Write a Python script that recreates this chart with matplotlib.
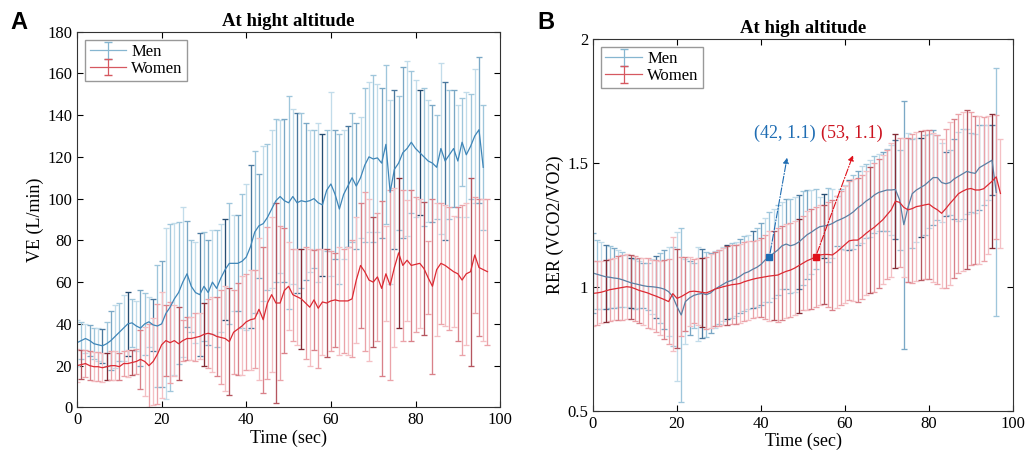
import numpy as np
import matplotlib.pyplot as plt

plt.rcParams['font.family'] = ['Liberation Serif', 'DejaVu Serif']

# --- data ---
men_t = np.arange(97)
women_t = np.arange(98)

men_ve_mean = [31, 32, 33, 32, 30.5, 30, 29.5, 30.5, 32, 34,
               36, 38, 40, 40.5, 39, 38, 40, 41, 39.5, 39,
               40, 45, 48, 52, 55, 60, 64, 58, 55, 54,
               58, 55, 60, 57, 62, 66, 69, 69, 69, 70,
               72, 77, 84, 87, 88, 91, 95, 99, 101, 99,
               98, 101, 98, 99, 98.5, 99, 100, 98, 97, 104,
               107, 102, 95, 102, 106, 110, 106, 110, 116, 120,
               119, 119.5, 117, 126, 103, 114, 117, 122, 124, 127,
               124, 122, 120, 118, 117, 115, 124, 118, 121, 124,
               118, 127, 121, 125, 130, 133, 115]
men_ve_err = [11, 9, 7, 7.5, 7.5, 8, 8, 10.5, 14, 15,
              14, 16, 15.5, 11.5, 12, 18, 15, 12, 12.5, 29,
              30, 41, 40, 36.5, 34, 36, 25.5, 22, 24, 29.5,
              26, 25, 25, 28, 26, 24, 29, 23, 23, 32,
              35, 39, 39, 25, 37, 35, 38, 39, 36.5, 39,
              51, 42, 43, 42, 37.5, 34, 33, 38, 34, 29,
              44, 31, 36, 31, 29, 31, 30, 29, 37, 36,
              40, 35.5, 36, 38, 44, 38, 32, 41, 42, 34,
              33, 30, 33, 29, 28, 25, 41, 38, 31, 28,
              27, 21, 30, 25, 32, 35, 30]
women_ve_mean = [20, 20.5, 21, 20, 19.5, 19.5, 19, 19.5, 20, 20,
                 19.5, 21, 21, 21.5, 22, 23, 22, 20, 22, 25.5,
                 30, 32, 31, 32, 30.5, 32, 33, 33, 33.5, 34,
                 35, 35.5, 35, 34, 33.5, 33, 31.5, 36, 37.5, 39,
                 41, 42, 42.5, 47, 42, 50, 54, 50, 50, 56,
                 58, 54, 53, 52, 50, 48, 51.5, 47.5, 50.5, 50,
                 51, 51.5, 51, 51, 51, 52, 61, 68, 65, 61,
                 60, 62.5, 57, 64, 58.5, 67, 74, 68, 70.5, 68,
                 68.5, 69, 66.5, 62, 58, 66, 69, 68, 66.5, 65,
                 64, 61, 64, 65, 73, 67, 66, 65]
women_ve_err = [8, 7, 6.5, 7, 7, 7, 7, 6.5, 7, 7,
                6.5, 6, 6.5, 6, 6, 14, 16.5, 20, 21, 24,
                25.5, 17, 19.5, 17, 17.5, 10, 10.5, 10.5, 11.5, 11,
                15, 16.5, 18, 19, 22.5, 25, 25.5, 20, 22, 23.7,
                23, 24, 23.5, 34, 35, 36.6, 37, 48, 37, 30,
                21, 22, 23, 24, 27, 28, 24, 28.5, 25.5, 26,
                24, 22.5, 26, 25, 26, 28, 30, 30, 38, 39,
                31, 30.5, 42, 22.7, 45.5, 38, 36, 36, 29, 36,
                32.5, 31, 32, 17.5, 42, 32, 29, 29, 29.5, 26.5,
                32, 36, 34, 45, 28, 33, 34, 35]

men_rer_mean = [1.055, 1.05, 1.045, 1.04, 1.038, 1.035, 1.033, 1.028, 1.022, 1.016,
                1.012, 1.008, 1.004, 1.001, 1.0, 0.998, 0.995, 0.99, 0.98, 0.96,
                0.92, 0.886, 0.94, 0.955, 0.965, 0.97, 0.973, 0.968, 0.975, 0.99,
                1.0, 1.01, 1.02, 1.025, 1.032, 1.042, 1.054, 1.06, 1.07, 1.078,
                1.09, 1.108, 1.12, 1.135, 1.148, 1.165, 1.172, 1.165, 1.17, 1.18,
                1.195, 1.21, 1.22, 1.232, 1.242, 1.245, 1.248, 1.255, 1.265, 1.272,
                1.28, 1.29, 1.302, 1.318, 1.33, 1.345, 1.356, 1.37, 1.38, 1.385,
                1.39, 1.39, 1.392, 1.35, 1.25, 1.32, 1.375, 1.39, 1.4, 1.41,
                1.425, 1.44, 1.44, 1.42, 1.415, 1.42, 1.435, 1.445, 1.455, 1.465,
                1.46, 1.457, 1.48, 1.49, 1.5, 1.51, 1.38]
men_rer_err = [0.16, 0.14, 0.135, 0.13, 0.125, 0.12, 0.115, 0.11, 0.105, 0.1,
               0.1, 0.095, 0.09, 0.095, 0.11, 0.125, 0.14, 0.16, 0.18, 0.2,
               0.3, 0.35, 0.17, 0.15, 0.13, 0.19, 0.18, 0.17, 0.16, 0.155,
               0.15, 0.15, 0.15, 0.15, 0.15, 0.15, 0.15, 0.15, 0.155, 0.16,
               0.165, 0.17, 0.18, 0.18, 0.18, 0.175, 0.18, 0.19, 0.19, 0.19,
               0.19, 0.18, 0.17, 0.16, 0.12, 0.13, 0.15, 0.14, 0.1, 0.12,
               0.13, 0.14, 0.15, 0.15, 0.155, 0.15, 0.155, 0.155, 0.155, 0.16,
               0.165, 0.18, 0.2, 0.2, 0.5, 0.3, 0.22, 0.21, 0.2, 0.2,
               0.19, 0.19, 0.17, 0.16, 0.13, 0.13, 0.16, 0.18, 0.18, 0.17,
               0.16, 0.16, 0.17, 0.16, 0.15, 0.14, 0.5]
women_rer_mean = [0.973, 0.975, 0.978, 0.983, 0.988, 0.991, 0.994, 0.997, 1.0, 0.998,
                  0.992, 0.985, 0.98, 0.975, 0.968, 0.962, 0.955, 0.948, 0.94, 0.972,
                  0.953, 0.96, 0.97, 0.98, 0.982, 0.98, 0.977, 0.975, 0.982, 0.99,
                  0.995, 1.0, 1.004, 1.008, 1.01, 1.013, 1.02, 1.025, 1.03, 1.034,
                  1.037, 1.04, 1.043, 1.045, 1.047, 1.055, 1.062, 1.067, 1.075, 1.085,
                  1.095, 1.105, 1.112, 1.12, 1.128, 1.13, 1.13, 1.128, 1.14, 1.155,
                  1.17, 1.185, 1.188, 1.188, 1.2, 1.215, 1.228, 1.24, 1.255, 1.27,
                  1.29, 1.31, 1.345, 1.34, 1.32, 1.31, 1.315, 1.323, 1.326, 1.33,
                  1.333, 1.32, 1.31, 1.296, 1.315, 1.336, 1.355, 1.375, 1.385, 1.393,
                  1.396, 1.39, 1.39, 1.395, 1.41, 1.425, 1.443, 1.376]
women_rer_err = [0.13, 0.13, 0.125, 0.125, 0.125, 0.125, 0.13, 0.13, 0.13, 0.13,
                 0.13, 0.13, 0.135, 0.14, 0.14, 0.145, 0.15, 0.16, 0.17, 0.23,
                 0.2, 0.16, 0.15, 0.14, 0.13, 0.135, 0.14, 0.145, 0.15, 0.15,
                 0.155, 0.155, 0.16, 0.16, 0.16, 0.16, 0.16, 0.16, 0.155, 0.155,
                 0.16, 0.17, 0.18, 0.18, 0.19, 0.19, 0.19, 0.19, 0.19, 0.19,
                 0.19, 0.2, 0.2, 0.2, 0.2, 0.2, 0.21, 0.22, 0.225, 0.23,
                 0.235, 0.24, 0.245, 0.25, 0.25, 0.25, 0.255, 0.26, 0.26, 0.26,
                 0.26, 0.27, 0.27, 0.26, 0.28, 0.29, 0.3, 0.3, 0.3, 0.3,
                 0.3, 0.3, 0.3, 0.3, 0.32, 0.33, 0.32, 0.32, 0.32, 0.32,
                 0.31, 0.3, 0.3, 0.29, 0.28, 0.27, 0.25, 0.22]

# --- styling ---
men_shades = ['#c2dcea', '#9fc6db', '#7ba8c6', '#4a789e', '#264d72']
women_shades = ['#f4c0c4', '#eba3a9', '#d98189', '#b5565f', '#852b35']
shade_order = [0, 1, 0, 2, 1, 0, 3, 1, 2, 0, 1, 0, 4, 1, 0, 2, 1, 0, 3, 1, 2, 0, 1]
men_line = '#3f86b8'
women_line = '#dc2a33'


def draw_bars(ax, t, mean, err, shades, shift):
    for i in range(len(t)):
        c = shades[shade_order[(i + shift) % len(shade_order)]]
        ax.errorbar(t[i], mean[i], yerr=err[i], fmt='none', ecolor=c,
                    elinewidth=0.95, capsize=2.3, capthick=0.95)


def style_axes(ax):
    ax.tick_params(direction='in', top=True, right=True, labelsize=12,
                   length=4, width=0.8)
    for s in ax.spines.values():
        s.set_linewidth(0.8)
        s.set_color('#333333')
    ax.set_xlim(0, 100)
    ax.set_xticks([0, 20, 40, 60, 80, 100])
    ax.set_xlabel('Time (sec)', fontsize=13, labelpad=1)


def add_legend(ax):
    h_men = ax.errorbar([np.nan], [np.nan], yerr=[1], color='#86b6d0',
                        lw=0.9, capsize=3)
    h_women = ax.errorbar([np.nan], [np.nan], yerr=[1], color='#d65860',
                          lw=0.9, capsize=3)
    ax.legend([h_men, h_women], ['Men', 'Women'], loc='upper left',
              fontsize=12, fancybox=False, edgecolor='#999999', framealpha=1,
              borderpad=0.25, labelspacing=0.05, handlelength=2.2,
              handletextpad=0.3, borderaxespad=0.5)


fig = plt.figure(figsize=(10.27, 4.59), dpi=100)
axA = fig.add_axes([0.075, 0.1124, 0.412, 0.8188])
axB = fig.add_axes([0.5774, 0.1052, 0.409, 0.8105])

# Panel A
draw_bars(axA, men_t, men_ve_mean, men_ve_err, men_shades, 0)
draw_bars(axA, women_t, women_ve_mean, women_ve_err, women_shades, 5)
axA.plot(men_t, men_ve_mean, color=men_line, lw=0.9)
axA.plot(women_t, women_ve_mean, color=women_line, lw=0.9)
style_axes(axA)
axA.set_ylim(0, 180)
axA.set_yticks(range(0, 181, 20))
axA.set_ylabel('VE (L/min)', fontsize=13, labelpad=2)
axA.set_title('At hight altitude', fontsize=13.5, fontweight='bold', pad=4)
add_legend(axA)

# Panel B
draw_bars(axB, men_t, men_rer_mean, men_rer_err, men_shades, 3)
draw_bars(axB, women_t, women_rer_mean, women_rer_err, women_shades, 9)
axB.plot(men_t, men_rer_mean, color='#5b7fa3', lw=0.9)
axB.plot(women_t, women_rer_mean, color=women_line, lw=0.9)
style_axes(axB)
axB.set_ylim(0.5, 2)
axB.set_yticks([0.5, 1, 1.5, 2])
axB.set_yticklabels(['0.5', '1', '1.5', '2'])
axB.set_ylabel('RER (VCO2/VO2)', fontsize=13, labelpad=2)
axB.set_title('At high altitude', fontsize=13.5, fontweight='bold', pad=4)
add_legend(axB)

# data tips
axB.plot(42, men_rer_mean[42], 's', color='#1f6db3', ms=5, zorder=5)
axB.annotate('', xy=(46.2, 1.52), xytext=(42, men_rer_mean[42]),
             arrowprops=dict(arrowstyle='-|>', linestyle='-.', color='#1f6db3',
                             lw=0.8, shrinkA=3, shrinkB=0, mutation_scale=8))
axB.text(45.7, 1.62, '(42, 1.1)', color='#1f6db3', fontsize=13,
         ha='center', va='center')
axB.plot(53, women_rer_mean[53], 's', color='#e0101a', ms=5, zorder=5)
axB.annotate('', xy=(61.9, 1.53), xytext=(53, women_rer_mean[53]),
             arrowprops=dict(arrowstyle='-|>', linestyle='-.', color='#e0101a',
                             lw=0.8, shrinkA=3, shrinkB=0, mutation_scale=8))
axB.text(61.6, 1.62, '(53, 1.1)', color='#cc1420', fontsize=13,
         ha='center', va='center')

# panel letters
fig.text(0.0185, 0.952, 'A', fontsize=17, fontweight='bold',
         family='Liberation Sans', ha='center', va='center')
fig.text(0.532, 0.952, 'B', fontsize=17, fontweight='bold',
         family='Liberation Sans', ha='center', va='center')

fig.savefig('out.png', dpi=100)
